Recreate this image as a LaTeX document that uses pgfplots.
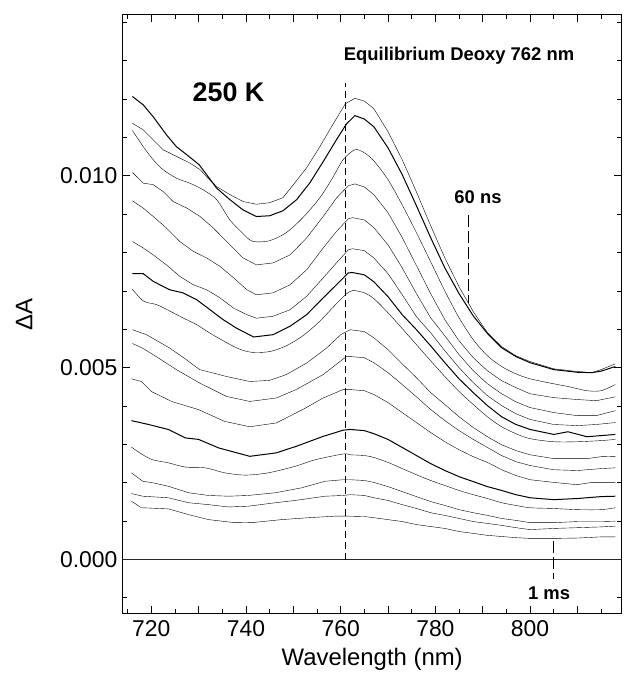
\documentclass[border=0pt]{standalone}
\usepackage{fontspec}
\setmainfont{Liberation Sans}
\usepackage{pgfplots}
\pgfplotsset{compat=1.18}
\usetikzlibrary{calc}

\begin{document}
\begin{tikzpicture}
\begin{axis}[
    scale only axis, width=499bp, height=599bp,
    xmin=714, xmax=819.3, ymin=-0.001406, ymax=0.014193,
    xtick={720,730,...,810}, xticklabels={720,,740,,760,,780,,800,},
    minor xtick={715,725,...,815},
    ytick={0,0.005,0.010},
    minor ytick={-0.001,0.001,0.002,0.003,0.004,0.006,0.007,0.008,0.009,0.011,0.012,0.013,0.014},
    scaled y ticks=false,
    yticklabel style={/pgf/number format/fixed, /pgf/number format/fixed zerofill,
        /pgf/number format/precision=3, /pgf/number format/assume math mode=true, xshift=-2bp},
    tick align=inside,
    major tick length=7bp, minor tick length=4bp,
    tick style={black, line width=0.8bp},
    axis line style={line width=1bp},
    ticklabel style={font=\fontsize{23}{27}\selectfont},
    xticklabel style={yshift=-4bp},
    xlabel={Wavelength (nm)}, ylabel={ΔA},
    label style={font=\fontsize{24}{28}\selectfont},
    xlabel style={at={(axis description cs:0.5,-0.077)}, anchor=center},
    ylabel style={at={(axis description cs:-0.198,0.5)}, anchor=center},
    no markers,
    cycle list={{black,solid,line width=1bp,smooth,tension=0.4}},
    clip=false,
]
% zero line
\addplot[black!85, line width=0.8bp] coordinates {(714,0) (819.3,0)};

% spectra, top (60 ns) to bottom (1 ms)
\addplot coordinates {(716,0.01137) (718.3,0.01120) (720.4,0.01094) (722.5,0.01068) (724.6,0.01055) (728.2,0.01033) (730.3,0.01016) (732,0.00994) (733.8,0.00972) (736.6,0.00951) (739.4,0.00933) (742.2,0.00926) (745,0.00930) (747.8,0.00943) (750,0.00977) (752.8,0.01021) (755.6,0.01076) (758.4,0.01135) (761,0.01188) (763,0.01202) (765,0.01195) (767,0.01175) (770,0.01115) (773,0.01042) (776,0.00958) (779,0.00870) (782,0.00786) (785,0.00711) (788,0.00646) (791,0.00591) (794,0.00555) (797,0.00531) (800,0.00516) (805,0.00497) (810,0.00490) (813,0.00487) (815,0.00495) (818,0.00510)};
\addplot coordinates {(716,0.01207) (718.3,0.01185) (720.4,0.01154) (723.2,0.01107) (725.3,0.01076) (727.5,0.01055) (730.1,0.01029) (732,0.00998) (733.8,0.00968) (736.6,0.00938) (739.4,0.00911) (742.2,0.00894) (745,0.00896) (747.8,0.00909) (750.7,0.00938) (753.5,0.00982) (756.3,0.01037) (759.1,0.01094) (761.2,0.01135) (763,0.01157) (765,0.01148) (767,0.01128) (770,0.01073) (773,0.01003) (776,0.00922) (779,0.00839) (782,0.00760) (785,0.00693) (788,0.00635) (791,0.00589) (794,0.00552) (797,0.00529) (800,0.00513) (805,0.00495) (810,0.00488) (813,0.00487) (815,0.00491) (818,0.00503)};
\addplot coordinates {(716,0.01118) (717.6,0.01089) (718.3,0.01076) (720.4,0.01042) (722.5,0.01016) (725.3,0.00994) (728.1,0.00981) (730.9,0.00964) (733.8,0.00938) (736.6,0.00885) (739,0.00854) (740.8,0.00833) (742.2,0.00828) (745,0.00831) (748.5,0.00852) (752,0.00891) (755.6,0.00943) (758.4,0.00997) (760.5,0.01042) (763,0.01068) (765,0.01060) (767,0.01039) (770,0.00990) (773,0.00924) (776,0.00852) (779,0.00776) (782,0.00700) (785,0.00630) (788,0.00573) (791,0.00531) (794,0.00503) (797,0.00484) (800,0.00471) (805,0.00458) (808,0.00451) (812,0.00440) (815,0.00440) (818,0.00456)};
\addplot coordinates {(716,0.01009) (718.3,0.00981) (720.4,0.00977) (722.5,0.00959) (724.6,0.00933) (727.5,0.00916) (730.3,0.00894) (733.1,0.00864) (735.9,0.00829) (739.4,0.00786) (742.2,0.00768) (745.7,0.00773) (749.3,0.00794) (752.8,0.00838) (756.3,0.00894) (759.1,0.00942) (761.6,0.00974) (763,0.00979) (765,0.00971) (767,0.00951) (770,0.00904) (773,0.00839) (776,0.00766) (779,0.00693) (782,0.00625) (785,0.00570) (788,0.00526) (791,0.00492) (794,0.00466) (797,0.00448) (800,0.00432) (805,0.00422) (810,0.00417) (814,0.00414) (818,0.00424)};
\addplot coordinates {(716,0.00935) (718.3,0.00916) (720.4,0.00894) (723.2,0.00864) (726,0.00829) (728.9,0.00803) (731.7,0.00786) (734.5,0.00764) (737.4,0.00734) (740.2,0.00703) (742.2,0.00690) (745.7,0.00695) (749.3,0.00716) (752.8,0.00755) (756.3,0.00812) (759.1,0.00855) (761.6,0.00888) (762.5,0.00891) (765,0.00885) (767,0.00865) (770,0.00820) (773,0.00760) (776,0.00693) (779,0.00630) (782,0.00583) (785,0.00534) (788,0.00492) (791,0.00458) (794,0.00432) (797,0.00411) (800,0.00396) (805,0.00383) (810,0.00375) (814,0.00375) (818,0.00388)};
\addplot coordinates {(716,0.00829) (718.3,0.00812) (720.4,0.00794) (723.2,0.00768) (726,0.00738) (728.9,0.00716) (731.7,0.00703) (734.5,0.00682) (737.4,0.00655) (740.2,0.00638) (742.2,0.00629) (745.7,0.00634) (749.3,0.00651) (752.8,0.00686) (756.3,0.00734) (759.1,0.00773) (761.6,0.00807) (762.5,0.00810) (765,0.00805) (767,0.00786) (770,0.00745) (773,0.00690) (776,0.00633) (779,0.00591) (782,0.00544) (785,0.00500) (788,0.00461) (791,0.00427) (794,0.00401) (797,0.00380) (800,0.00365) (805,0.00352) (810,0.00349) (814,0.00352) (818,0.00357)};
\addplot coordinates {(716,0.00745) (718.3,0.00745) (720.4,0.00725) (723.9,0.00703) (726.7,0.00695) (729.6,0.00677) (732.4,0.00651) (735.2,0.00625) (738,0.00603) (741.6,0.00580) (745.7,0.00586) (749.3,0.00608) (752.8,0.00638) (756.3,0.00682) (759.1,0.00716) (761.6,0.00747) (762.5,0.00748) (765,0.00742) (767,0.00724) (770,0.00685) (773,0.00638) (776,0.00599) (779,0.00557) (782,0.00513) (785,0.00471) (788,0.00435) (791,0.00401) (794,0.00372) (797,0.00352) (800,0.00339) (805,0.00326) (808,0.00333) (812,0.00320) (815,0.00323) (818,0.00326)};
\addplot coordinates {(716,0.00705) (718.3,0.00674) (721.2,0.00664) (724,0.00647) (726.8,0.00629) (729.6,0.00612) (732.4,0.00590) (735.5,0.00568) (738.5,0.00549) (741.3,0.00540) (745,0.00542) (748.5,0.00557) (752,0.00583) (755.5,0.00620) (758.5,0.00659) (761,0.00690) (762.5,0.00701) (765,0.00695) (767,0.00680) (770,0.00643) (773,0.00602) (776,0.00560) (779,0.00518) (782,0.00477) (785,0.00438) (788,0.00404) (791,0.00372) (794,0.00346) (797,0.00328) (800,0.00315) (805,0.00307) (810,0.00307) (815,0.00310) (818,0.00313)};
\addplot coordinates {(716,0.00599) (719,0.00586) (723.9,0.00551) (727.4,0.00521) (730.2,0.00495) (733.1,0.00486) (735.9,0.00477) (740.8,0.00464) (745,0.00467) (748.5,0.00482) (752.8,0.00512) (757,0.00551) (760,0.00586) (762,0.00599) (765,0.00594) (767,0.00578) (770,0.00547) (773,0.00510) (776,0.00474) (779,0.00435) (782,0.00404) (785,0.00372) (788,0.00344) (791,0.00320) (794,0.00299) (797,0.00284) (800,0.00273) (805,0.00263) (808,0.00263) (812,0.00263) (815,0.00268) (818,0.00269)};
\addplot coordinates {(716,0.00563) (718,0.00552) (720.4,0.00534) (725.3,0.00495) (730.2,0.00460) (735.9,0.00425) (740.8,0.00412) (746.4,0.00421) (750.6,0.00443) (756.3,0.00482) (759,0.00508) (761.2,0.00529) (762,0.00529) (765,0.00526) (767,0.00513) (770,0.00487) (773,0.00456) (776,0.00424) (779,0.00391) (782,0.00362) (785,0.00336) (788,0.00313) (791,0.00292) (794,0.00271) (797,0.00255) (800,0.00245) (805,0.00234) (810,0.00232) (815,0.00237) (818,0.00239)};
\addplot coordinates {(715.8,0.00471) (717.9,0.00464) (720,0.00438) (724.3,0.00412) (729.9,0.00391) (735.5,0.00360) (740.8,0.00346) (746.4,0.00356) (752,0.00391) (756.3,0.00421) (760.5,0.00443) (762,0.00443) (765,0.00440) (767,0.00430) (770,0.00409) (773,0.00383) (776,0.00357) (779,0.00331) (782,0.00307) (785,0.00286) (788,0.00268) (791,0.00253) (794,0.00234) (797,0.00219) (800,0.00208) (805,0.00201) (810,0.00195) (813,0.00201) (818,0.00201)};
\addplot coordinates {(715.8,0.00362) (719.4,0.00352) (723.6,0.00339) (727.2,0.00317) (730,0.00313) (734.2,0.00291) (740.8,0.00269) (746.4,0.00278) (750.6,0.00295) (756.3,0.00321) (760.5,0.00337) (762,0.00339) (765,0.00336) (767,0.00328) (770,0.00313) (773,0.00292) (776,0.00271) (779,0.00250) (782,0.00232) (785,0.00216) (788,0.00203) (791,0.00190) (794,0.00180) (797,0.00169) (800,0.00161) (805,0.00156) (810,0.00159) (815,0.00164) (818,0.00165)};
\addplot coordinates {(715.8,0.00293) (718.2,0.00273) (720.3,0.00260) (723.6,0.00252) (727.2,0.00241) (731.4,0.00239) (735.5,0.00226) (739.8,0.00220) (744.7,0.00226) (750.4,0.00243) (754.6,0.00260) (760.5,0.00275) (762,0.00273) (765,0.00271) (767,0.00266) (770,0.00253) (773,0.00237) (776,0.00221) (779,0.00206) (782,0.00193) (785,0.00180) (788,0.00169) (791,0.00159) (794,0.00148) (797,0.00141) (800,0.00135) (805,0.00133) (810,0.00130) (815,0.00130) (818,0.00135)};
\addplot coordinates {(715.8,0.00226) (718.2,0.00204) (720.3,0.00200) (723.6,0.00191) (727.9,0.00174) (732.1,0.00167) (736.3,0.00165) (740.5,0.00167) (746.2,0.00174) (751.8,0.00187) (756.7,0.00204) (760.5,0.00208) (762,0.00208) (765,0.00206) (767,0.00201) (770,0.00190) (773,0.00177) (776,0.00164) (779,0.00151) (782,0.00141) (785,0.00130) (788,0.00122) (791,0.00115) (794,0.00107) (797,0.00102) (800,0.00096) (805,0.00096) (810,0.00099) (815,0.00099) (818,0.00100)};
\addplot coordinates {(715.8,0.00172) (718.2,0.00165) (723.6,0.00161) (727.9,0.00148) (732.1,0.00143) (736.3,0.00137) (740.5,0.00139) (746.2,0.00148) (750.4,0.00154) (756.7,0.00165) (760.5,0.00167) (762,0.00169) (765,0.00167) (767,0.00161) (770,0.00154) (773,0.00143) (776,0.00133) (779,0.00122) (782,0.00115) (785,0.00107) (788,0.00099) (791,0.00094) (794,0.00089) (797,0.00083) (800,0.00078) (805,0.00081) (810,0.00083) (815,0.00085) (818,0.00087)};
\addplot coordinates {(715.8,0.00152) (717.9,0.00135) (723.6,0.00132) (727.9,0.00117) (732.1,0.00104) (737.7,0.00096) (741.9,0.00097) (747.5,0.00104) (753.2,0.00109) (758.8,0.00113) (761.6,0.00113) (765,0.00112) (767,0.00109) (770,0.00104) (773,0.00099) (776,0.00091) (779,0.00086) (782,0.00081) (785,0.00073) (788,0.00068) (791,0.00063) (794,0.00060) (797,0.00057) (800,0.00055) (805,0.00055) (810,0.00056) (815,0.00059) (818,0.00059)};

% markers
\addplot[dash pattern=on 7bp off 4bp, line width=0.9bp] coordinates {(761,0) (761,0.01241)};
\addplot[dash pattern=on 12bp off 4bp, line width=0.9bp] coordinates {(787,0.00898) (787,0.00669)};
\addplot[dash pattern=on 12bp off 4bp, line width=0.9bp] coordinates {(804.9,0.00048) (804.9,-0.00052)};

\node[anchor=base, font=\fontsize{27}{30}\selectfont\bfseries] at (axis cs:736.3,0.011935) {250 K};
\node[anchor=base, font=\fontsize{18.5}{21}\selectfont\bfseries] at (axis cs:785.0,0.013008) {Equilibrium Deoxy 762 nm};
\node[anchor=base, font=\fontsize{18.5}{21}\selectfont\bfseries] at (axis cs:789.0,0.009289) {60 ns};
\node[anchor=base, font=\fontsize{18.5}{21}\selectfont\bfseries] at (axis cs:804.0,-0.001042) {1 ms};
\end{axis}
\path ($(current axis.south west)+(-123bp,-60bp)$) rectangle ($(current axis.north east)+(2bp,15bp)$);
\end{tikzpicture}
\end{document}
